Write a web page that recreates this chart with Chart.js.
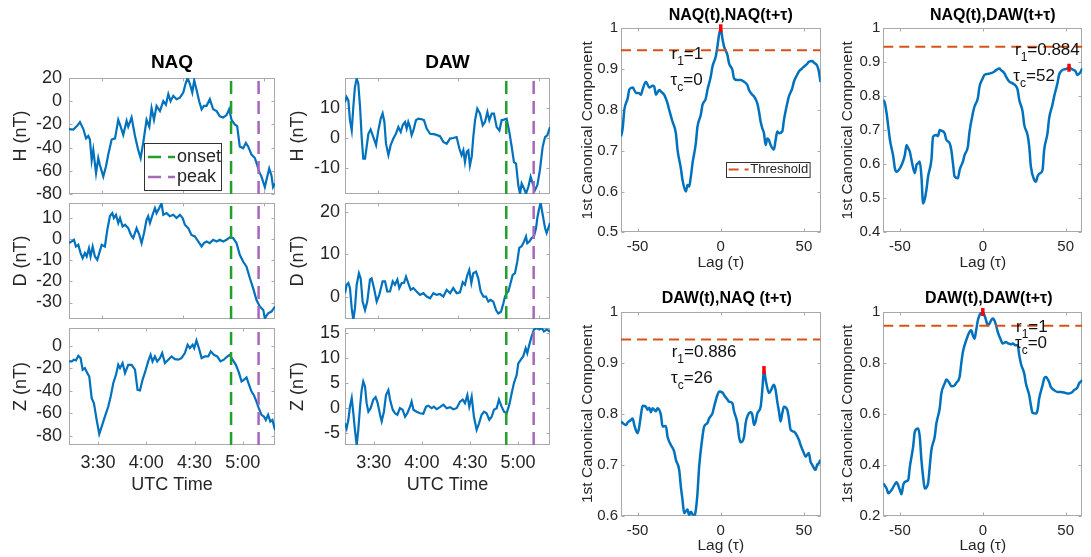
<!DOCTYPE html>
<html>
<head>
<meta charset="utf-8">
<script src="https://cdn.jsdelivr.net/npm/chart.js@4.4.1/dist/chart.umd.min.js"></script>
<style>
  html, body { margin: 0; padding: 0; background: #fff; }
  #wrap { position: relative; width: 1091px; height: 557px; overflow: hidden; background: #fff; }
  #wrap canvas { position: absolute; left: 0; top: 0; }
</style>
</head>
<body>
<div id="wrap"></div>
<script>
// ---------------- time axis (magnetometer panels) ----------------
const START = '3:12';            // first sample, UTC
const END = '5:20';              // last sample, UTC
const timeTickLabels = ['3:30', '4:00', '4:30', '5:00'];
const upperTickMin = [20.5, 70.7, 121];   // unlabeled ticks on the H and D panels (minutes after START)
const onsetMin = 100.7;          // substorm onset, minutes after START
const peakMin = 117.8;           // substorm peak, minutes after START

// ---------------- NAQ (minutes after START, nT) ----------------
const naqH_t = [0,2.7,5.2,6.8,8.9,10.6,12.0,13.0,14.1,15.1,16.8,18.2,19.2,21.3,23.0,24.4,26.5,28.6,30.6,32.1,33.7,35.8,36.8,38.9,41.0,43.0,44.5,46.1,48.2,49.9,51.3,52.8,54.4,56.5,58.6,60.2,61.7,63.1,64.8,66.8,68.9,71.0,72.4,73.7,75.1,76.6,77.8,79.2,80.9,82.4,83.8,85.5,87.5,89.6,91.7,93.7,95.8,97.9,99.5,101.0,103.0,104.5,106.1,108.2,109.9,111.3,113.4,115.5,116.9,118.2,119.6,121.7,122.7,124.4,125.8,126.8,128];
const naqH = [-24,-24.5,-21,-18,-24,-32,-30,-33,-51,-42,-62,-49,-55,-65,-56,-46,-33,-32,-16,-22,-29,-17,-22,-14,-30,-42,-49,-36,-16,-22,-6,-16,-4,-8.5,0,-3,6,0,4.6,1.7,3,7.5,15,20,15,7.5,18,10,0,-7,-4,-4,1.7,-7,-8.5,-13,-14,-12,-7,-16,-20,-21.5,-39,-40.5,-36,-39,-46,-49,-55,-61,-65,-74,-68,-58,-64,-74,-71];

const naqD_t = [0,1.7,3.1,4.3,5.8,7.2,8.5,9.9,11.0,12.4,13.4,14.7,16.1,17.6,18.8,20.3,22.3,23.8,25.4,26.9,27.9,29.2,30.6,31.7,33.3,34.8,36.8,38.5,39.9,42.0,43.7,45.1,46.6,48.2,49.2,50.3,51.9,53.4,54.4,56.1,57.5,58.6,60.6,62.7,64.8,66.8,68.9,70.6,72.0,74.1,76.1,78.2,80.3,82.4,83.8,85.5,87.5,89.6,91.7,93.7,95.8,97.9,99.9,102.0,104.1,106.1,108.2,110.3,112.4,114.4,116.5,118.6,120.7,121.7,123.7,125.8,128];
const naqD = [-1.9,-1.1,-0.3,-3.5,-2.7,-6.6,-9,-6.6,-8.2,-4.3,-8.2,-3.5,-8.2,-9.8,-6.6,-2.7,-3.5,4.4,10.8,12.3,10,11.5,7.6,10,6,6.8,5.2,2,0.5,5.2,2,-1.9,2.8,9.2,10.8,7.6,11.5,14.7,12.3,14.7,17,11.5,12.3,10.8,11.5,10,11.5,10,6.8,5.2,2,1.3,-1.1,-3.5,-1.9,-1.1,-1.9,-0.3,-1.1,-0.3,-1.1,-0.3,0.8,0.5,-1.9,-7.4,-10.6,-13,-18.5,-23.2,-28.8,-31.9,-33.5,-37.5,-35.1,-34.3,-31.9];

const naqZ_t = [0,1.7,3.1,4.3,5.8,7.2,8.5,9.9,11.4,12.6,14.1,15.5,17.2,18.8,20.3,22.3,24.4,25.9,27.5,29.2,30.6,31.7,33.3,34.8,36.8,38.9,41.0,42.6,44.1,45.7,47.4,49.2,50.7,51.9,53.4,54.8,56.5,57.9,59.6,61.7,63.7,65.8,67.9,69.9,72.0,73.7,75.1,76.8,77.8,79.2,80.7,82.4,84.4,86.5,88.1,90.0,92.1,94.1,96.2,97.9,99.9,101.6,103.7,105.7,107.2,108.6,110.3,111.9,113.4,114.8,116.5,117.9,119.6,121.1,122.3,123.7,125.1,126.4,128];
const naqZ = [-13.9,-13.9,-12.4,-13,-8.9,-11,-21.3,-19.9,-24.3,-27.3,-46.5,-51,-65.8,-78.2,-71.7,-62.8,-53.9,-45,-33.2,-25.8,-16.9,-19.9,-15.4,-24.3,-16.9,-16.9,-21.3,-39.1,-39.7,-30.2,-22.8,-13.9,-8,-13.9,-9.5,-13.9,-11,-6.5,-15.4,-12.4,-9.5,-11.9,-12.4,-11,-6.5,0.9,-2.1,0.9,-2.1,4.7,-2.1,-11,-9.5,-9.5,-5,-8,-9.5,-13.9,-12.4,-10,-8,-12.4,-16.9,-24.3,-31.7,-30.2,-28.1,-34.7,-40.6,-43.6,-49.5,-55.4,-61.3,-62.8,-65.8,-61.3,-67.3,-65.8,-74.7];

// ---------------- DAW (minutes after START, nT) ----------------
const dawH_t = [0,1.0,2.1,3.1,4.2,5.2,6.2,7.3,8.3,9.4,10.4,11.4,12.5,13.5,14.6,16.0,17.7,19.4,20.8,22.3,23.5,24.6,25.6,27.1,28.5,30.2,31.8,33.3,34.8,36.0,37.5,38.5,39.5,40.6,41.6,42.7,44.3,45.8,47.9,49.3,51.0,53.1,56.2,59.3,61.4,63.5,65.6,67.6,69.7,71.4,72.8,73.9,74.9,76.0,77.0,78.0,79.1,80.1,81.2,82.6,84.3,86.0,87.4,88.9,90.1,91.6,93.0,94.7,96.4,97.8,99.3,100.9,102.6,104.1,105.5,106.8,108.2,109.3,110.3,111.8,113.0,114.5,115.9,117.2,118.6,120.1,121.7,123.4,124.9,126.3,128];
const dawH = [11.9,13.6,12.5,5.9,2.5,10.3,16.9,19.7,18,10.3,0.3,-6.9,-6.9,-3,1.4,2.8,0.3,-2.4,2.5,6.4,8.1,5.3,-1.9,-5.7,-2.4,-0.2,1.4,3.6,2,4.2,5.3,3.1,5.3,3.6,0.9,2.5,5.9,6.4,6.2,5.9,3.1,1.4,1.2,0.6,-1.3,-1.9,-0.2,0,0.3,-3.5,-5.7,-4.1,-8,-4.6,-4.1,-9.1,-6.3,0.3,5.9,9.7,8.1,4.2,5.3,8.6,5.9,8.1,8.1,3.6,2.5,5.9,6.1,6.4,2,-3,-8,-8.5,-15.7,-18.5,-15.1,-16.8,-18.5,-16.2,-12.9,-15.1,-17.3,-15.7,-10.7,-3,0.3,0.9,3.6];

const dawD_t = [0,1.0,2.1,3.1,4.2,5.2,6.2,7.3,8.7,9.8,11.0,12.5,13.9,15.6,16.6,18.1,19.8,21.4,23.5,25.0,26.4,28.1,29.8,31.2,32.7,33.9,35.4,36.8,38.1,39.5,41.0,42.7,44.7,46.8,48.9,51.0,53.1,55.2,57.2,59.3,61.4,63.5,65.6,67.6,69.7,71.8,73.5,74.9,76.4,77.6,78.9,80.1,81.8,83.2,84.7,86.4,88.0,89.5,90.9,92.6,94.3,95.7,97.4,98.9,99.9,100.9,102.0,103.4,104.7,106.1,107.6,108.8,110.3,111.8,113.0,113.8,115.1,116.5,118.0,119.3,120.1,121.3,122.2,123.4,124.9,125.9,127.0,128];
const dawD = [0.8,2.8,3.2,2,-2.8,-5.5,-2.8,2.8,5.5,4.3,-1.2,-3.2,-1.2,4,4.3,2,-1.2,0.4,3.6,3.6,1.2,1.2,3.6,2.8,4,2,3.2,3.2,4.7,3.2,1.6,2,1.2,0.4,0.8,0,-0.4,0.8,0.4,0.6,0,1.6,0.8,2,0.8,1,3.4,2.8,5.1,6.3,3.2,5.5,5.9,4.3,1.2,0,0,-1.2,-0.8,-1.2,-3.2,-4,-3.6,-1.6,0,0.8,1.2,3.2,5.1,5.5,8.3,11.5,11.9,13,14.2,12.6,13,13.8,14.2,16.2,18.6,20.9,22.1,19.4,16.2,15,16.2,17.4];

const dawZ_t = [0,1.0,2.1,3.1,4.2,5.2,6.2,7.3,8.3,9.4,10.4,11.4,12.5,13.5,14.6,16.0,17.7,19.1,20.4,21.9,22.9,24.3,25.6,27.1,28.1,29.8,31.2,32.7,34.3,36.0,37.5,38.9,40.6,41.6,42.7,44.7,46.8,48.9,50.6,52.0,54.1,55.6,57.2,59.3,61.4,63.5,65.6,67.6,69.7,71.8,73.5,74.9,76.4,77.6,79.1,80.5,82.2,83.7,85.3,86.8,88.4,90.1,91.6,93.0,94.7,96.1,97.8,99.3,100.9,102.6,104.1,105.5,107.2,108.2,109.7,111.3,112.8,113.8,115.1,116.5,118.0,119.7,121.3,122.8,124.2,125.9,128];
const dawZ = [-3,-4,-2.3,0.3,2,-1,-4.3,-7.3,-4.3,0.3,3.6,5.3,4.3,1,-0.7,0,1.7,2.2,1,-1.3,-2.6,-0.7,2.6,3.6,1.7,-0.3,-1,-1.3,0,-0.3,-1.7,-1,0.3,1.3,-0.3,-0.7,-1,-1.1,0.3,0.5,0,0.3,-0.2,0.2,0.7,0,0.2,-0.2,0,1.3,1.7,1,2.6,0.3,2.3,-1.7,-4.3,-3,-1.3,-0.7,-1,-2.3,-1.7,-0.3,0,1.7,0.3,-0.7,-1,0.7,3,5,6.6,8.9,9.6,10.3,11.9,10.9,12.6,14.2,15.6,15.9,15.6,15.9,15.2,15.6,15.2];

// ---------------- lagged canonical correlation (first component) ----------------
const threshold = 0.946;
const lagTicks = [-50, 0, 50];

const lagNN = [-60,-59,-58,-56,-55,-53,-51,-49,-48,-47,-45,-43,-41,-40,-39,-37,-36,-34,-32,-31,-29,-27,-26,-24,-23,-21,-20,-19,-18,-17,-15,-14,-12,-11,-9,-8,-6,-5,-3,-2,-1,0,1,2,4,5,7,8,10,12,14,16,17,19,20,22,23,24,25,26,27,28,29,30,32,33,34,35,37,38,40,41,43,44,46,47,49,50,52,53,55,56,58,59,60];
const ccNN = [0.735,0.755,0.80,0.828,0.85,0.855,0.842,0.841,0.837,0.85,0.869,0.855,0.859,0.857,0.837,0.849,0.845,0.837,0.816,0.80,0.771,0.743,0.702,0.657,0.628,0.600,0.616,0.612,0.636,0.669,0.718,0.759,0.788,0.812,0.828,0.849,0.882,0.906,0.931,0.955,0.985,1.0,0.975,0.955,0.935,0.914,0.898,0.877,0.873,0.873,0.869,0.861,0.849,0.837,0.833,0.816,0.796,0.771,0.755,0.743,0.714,0.730,0.726,0.714,0.703,0.726,0.747,0.743,0.747,0.775,0.816,0.833,0.853,0.869,0.886,0.894,0.902,0.906,0.913,0.918,0.920,0.916,0.908,0.894,0.868];

const lagND = [-60,-59,-58,-57,-56,-54,-53,-52,-50,-49,-47,-46,-45,-44,-43,-41,-40,-39,-38,-37,-36,-34,-33,-31,-30,-28,-27,-26,-25,-23,-22,-20,-19,-18,-17,-15,-14,-12,-11,-9,-8,-6,-5,-3,-2,0,1,3,5,7,8,10,11,13,14,16,18,20,21,22,24,25,27,28,29,31,32,33,34,36,37,39,40,42,43,45,46,48,50,52,54,56,57,58,59,60];
const ccND = [0.79,0.779,0.75,0.711,0.672,0.623,0.588,0.578,0.588,0.598,0.627,0.657,0.647,0.637,0.613,0.574,0.598,0.603,0.608,0.564,0.485,0.525,0.564,0.613,0.681,0.686,0.683,0.701,0.699,0.691,0.672,0.662,0.642,0.603,0.564,0.559,0.583,0.608,0.627,0.652,0.696,0.750,0.770,0.794,0.828,0.853,0.863,0.866,0.868,0.873,0.877,0.882,0.877,0.868,0.858,0.843,0.838,0.830,0.819,0.789,0.755,0.716,0.686,0.652,0.593,0.554,0.549,0.564,0.572,0.583,0.642,0.691,0.735,0.775,0.799,0.838,0.863,0.877,0.880,0.884,0.879,0.873,0.863,0.866,0.872,0.882];

const lagDN = [-60,-59,-57,-56,-54,-53,-52,-50,-49,-48,-47,-45,-44,-43,-42,-41,-39,-38,-36,-35,-33,-32,-30,-28,-27,-25,-24,-23,-22,-20,-19,-18,-16,-15,-14,-13,-11,-10,-8,-7,-5,-4,-2,-1,1,2,4,5,7,8,10,11,12,14,15,16,18,19,20,21,22,24,25,26,27,29,30,32,33,34,35,36,37,38,40,41,42,44,45,47,48,50,51,53,54,55,57,58,59,60];
const ccDN = [0.785,0.782,0.778,0.783,0.788,0.791,0.778,0.762,0.775,0.798,0.816,0.814,0.808,0.812,0.803,0.811,0.805,0.811,0.798,0.775,0.776,0.755,0.739,0.726,0.710,0.690,0.657,0.631,0.605,0.612,0.601,0.608,0.598,0.611,0.644,0.696,0.755,0.775,0.782,0.791,0.801,0.814,0.837,0.844,0.842,0.837,0.828,0.824,0.821,0.805,0.782,0.755,0.744,0.755,0.782,0.795,0.803,0.798,0.778,0.785,0.801,0.814,0.847,0.886,0.867,0.841,0.845,0.857,0.847,0.824,0.805,0.785,0.801,0.814,0.808,0.791,0.769,0.765,0.762,0.749,0.739,0.723,0.716,0.723,0.706,0.700,0.690,0.700,0.703,0.710];

const lagDD = [-60,-58,-57,-55,-53,-52,-50,-49,-48,-47,-45,-44,-42,-41,-39,-38,-37,-36,-35,-33,-32,-31,-29,-28,-26,-25,-23,-22,-20,-19,-17,-16,-14,-13,-12,-10,-8,-7,-6,-5,-4,-3,-2,-1,0,1,2,3,4,5,6,7,8,9,11,12,14,15,17,18,20,21,22,23,25,26,28,29,30,32,33,34,36,37,38,40,41,43,45,47,49,51,52,54,55,57,58,60];
const ccDD = [0.327,0.307,0.288,0.301,0.324,0.331,0.301,0.284,0.320,0.333,0.340,0.392,0.471,0.529,0.542,0.510,0.418,0.353,0.307,0.327,0.392,0.458,0.510,0.562,0.621,0.680,0.719,0.735,0.719,0.708,0.712,0.722,0.745,0.797,0.843,0.889,0.922,0.928,0.908,0.895,0.928,0.967,0.987,0.998,1.0,0.987,0.967,0.948,0.954,0.967,0.974,0.967,0.948,0.922,0.889,0.876,0.882,0.878,0.873,0.876,0.869,0.869,0.830,0.797,0.758,0.719,0.673,0.634,0.604,0.601,0.614,0.660,0.712,0.739,0.745,0.725,0.706,0.693,0.686,0.686,0.684,0.680,0.680,0.686,0.693,0.703,0.719,0.732];

// peak of each lag curve: r1 and the lag where it occurs
const r1Values = [1, 0.884, 0.886, 1];
const tauValues = [0, 52, 26, 0];

// ---------------- styling ----------------
const FONT = '"Liberation Sans", Arial, Helvetica, sans-serif';
const TXT = '#262626';
const FRAME = '#a9a9a9';
const BLUE = '#0072bd';
const ONSET_COLOR = '#22a02a';
const PEAK_COLOR = '#a867bb';
const THRESH_COLOR = '#d95319';
const W = 1091, H = 557;

Chart.defaults.font.family = FONT;
Chart.defaults.color = TXT;

const toMin = s => { const [h, m] = s.split(':').map(Number); return h * 60 + m; };
const span = toMin(END) - toMin(START);
const timeTicks = timeTickLabels.map(s => toMin(s) - toMin(START));
const zip = (xs, ys) => xs.slice(0, Math.min(xs.length, ys.length)).map((x, i) => ({ x, y: ys[i] }));
const fmtNum = v => String(parseFloat(Number(v).toFixed(3)));

// frame and inward ticks on all sides (under the data), then titles, legends and notes (over it)
const panelDecor = {
  id: 'panelDecor',
  beforeDatasetsDraw(chart, args, o) {
    const { ctx, chartArea: a } = chart;
    const xs = chart.scales.x, ys = chart.scales.y;
    ctx.save();
    const L = Math.round(a.left) + 0.5, T = Math.round(a.top) + 0.5;
    const R = Math.round(a.right) - 0.5, B = Math.round(a.bottom) - 0.5;
    ctx.strokeStyle = FRAME; ctx.lineWidth = 1; ctx.setLineDash([]);
    ctx.strokeRect(L, T, R - L, B - T);
    const tl = o.tickLen || 3;
    ctx.beginPath();
    xs.ticks.forEach(tk => {
      const px = Math.round(xs.getPixelForValue(tk.value)) + 0.5;
      ctx.moveTo(px, B); ctx.lineTo(px, B - tl);
      ctx.moveTo(px, T); ctx.lineTo(px, T + tl);
    });
    ys.ticks.forEach(tk => {
      const py = Math.round(ys.getPixelForValue(tk.value)) + 0.5;
      ctx.moveTo(L, py); ctx.lineTo(L + tl, py);
      ctx.moveTo(R, py); ctx.lineTo(R - tl, py);
    });
    ctx.stroke();
    ctx.restore();
  },
  afterDatasetsDraw(chart, args, o) {
    const { ctx, chartArea: a } = chart;
    const xs = chart.scales.x, ys = chart.scales.y;
    ctx.save();
    if (o.title) {
      ctx.font = `bold ${o.title.size}px ${FONT}`;
      ctx.fillStyle = '#000'; ctx.textAlign = 'center'; ctx.textBaseline = 'middle';
      ctx.fillText(o.title.text, (a.left + a.right) / 2 + (o.title.dx || 0), a.top - o.title.dy);
    }

    if (o.legend) {
      const lg = o.legend;
      const bx = Math.round(a.left + lg.x), by = Math.round(a.top + lg.y);
      ctx.fillStyle = '#fff'; ctx.fillRect(bx, by, lg.w, lg.h);
      ctx.strokeStyle = '#333'; ctx.lineWidth = 1; ctx.setLineDash([]);
      ctx.strokeRect(bx + 0.5, by + 0.5, lg.w, lg.h);
      lg.items.forEach((di, i) => {
        const ds = chart.data.datasets[di];
        const yy = by + lg.rowY[i];
        ctx.strokeStyle = ds.borderColor; ctx.lineWidth = ds.borderWidth;
        ctx.setLineDash(ds.borderDash || []);
        ctx.beginPath(); ctx.moveTo(bx + lg.s0, yy); ctx.lineTo(bx + lg.s1, yy); ctx.stroke();
        ctx.setLineDash([]);
        ctx.fillStyle = TXT; ctx.font = `${lg.size}px ${FONT}`;
        ctx.textAlign = 'left'; ctx.textBaseline = 'middle';
        ctx.fillText(ds.label, bx + lg.textX, yy);
      });
    }

    if (o.notes) {
      o.notes.forEach(n => {
        const x = xs.getPixelForValue(n.at[0]), y = ys.getPixelForValue(n.at[1]);
        ctx.fillStyle = '#111'; ctx.textAlign = 'left'; ctx.textBaseline = 'alphabetic';
        ctx.font = `${n.size}px ${FONT}`;
        ctx.fillText(n.base, x, y);
        let w = ctx.measureText(n.base).width;
        ctx.font = `${Math.round(n.size * 0.68)}px ${FONT}`;
        ctx.fillText(n.sub, x + w, y + n.size * 0.36);
        w += ctx.measureText(n.sub).width;
        ctx.font = `${n.size}px ${FONT}`;
        ctx.fillText(n.rest, x + w, y);
      });
    }
    ctx.restore();
  }
};

function makeCanvas() {
  const c = document.createElement('canvas');
  c.width = W; c.height = H;
  c.style.width = W + 'px'; c.style.height = H + 'px';
  document.getElementById('wrap').appendChild(c);
  return c;
}

function buildPanel(p) {
  const a = p.area;
  return new Chart(makeCanvas(), {
    type: 'line',
    data: { datasets: p.datasets },
    options: {
      responsive: false, animation: false, devicePixelRatio: 1, events: [],
      layout: { padding: { left: a.l - p.yAxisW, top: a.t, right: W - a.r, bottom: H - a.b - p.xAxisH } },
      plugins: { legend: { display: false }, tooltip: { enabled: false }, title: { display: false }, panelDecor: p.decor },
      elements: { point: { radius: 0 }, line: { tension: 0 } },
      scales: {
        x: {
          type: 'linear', position: 'bottom', min: p.xMin, max: p.xMax,
          grid: { display: false, drawTicks: false }, border: { display: false },
          ticks: {
            display: p.xLabels, autoSkip: false, maxRotation: 0, padding: p.xTickPad,
            font: { size: p.tickSize }, color: TXT, callback: p.xFmt
          },
          afterBuildTicks: s => { s.ticks = p.xTicks.map(v => ({ value: v })); },
          afterFit: s => { s.height = p.xAxisH; },
          title: {
            display: !!p.xTitle, text: p.xTitle, color: TXT,
            font: { size: p.axTitleSize }, padding: { top: 0, bottom: p.xTitlePad }
          }
        },
        y: {
          type: 'linear', position: 'left', min: p.yMin, max: p.yMax,
          grid: { display: false, drawTicks: false }, border: { display: false },
          ticks: {
            autoSkip: false, padding: p.yTickPad, font: { size: p.tickSize }, color: TXT,
            callback: v => fmtNum(v)
          },
          afterBuildTicks: s => { s.ticks = p.yTicks.map(v => ({ value: v })); },
          afterFit: s => { s.width = p.yAxisW; },
          title: {
            display: true, text: p.yTitle, color: TXT,
            font: { size: p.axTitleSize }, padding: { top: p.yTitlePad, bottom: 0 }
          }
        }
      }
    },
    plugins: [panelDecor]
  });
}

// ---------------- magnetometer panels ----------------
const stations = [
  { name: 'NAQ', comps: [[naqH_t, naqH], [naqD_t, naqD], [naqZ_t, naqZ]],
    lims: [[-80, 20], [-37.8, 17.1], [-88, 15.7]],
    ticks: [[-80, -60, -40, -20, 0, 20], [-30, -20, -10, 0, 10], [-80, -60, -40, -20, 0]],
    col: { l: 69, r: 275, yAxisW: 69, yTitlePad: 10, yTickPad: 7 } },
  { name: 'DAW', comps: [[dawH_t, dawH], [dawD_t, dawD], [dawZ_t, dawZ]],
    lims: [[-18.6, 19.9], [-5.3, 22.1], [-7.3, 15.9]],
    ticks: [[-10, 0, 10], [0, 10, 20], [-5, 0, 5, 10, 15]],
    col: { l: 345, r: 550, yAxisW: 65, yTitlePad: 7, yTickPad: 5 } }
];
const compNames = ['H', 'D', 'Z'];
const rows = [{ t: 78, b: 194 }, { t: 203, b: 319 }, { t: 328, b: 445 }];

stations.forEach((st, si) => {
  st.comps.forEach(([tt, vv], ri) => {
    const [yMin, yMax] = st.lims[ri];
    const last = ri === 2;
    const datasets = [
      { label: 'onset', data: [{ x: onsetMin, y: yMin }, { x: onsetMin, y: yMax }],
        borderColor: ONSET_COLOR, borderWidth: 2.5, borderDash: [13, 7], pointRadius: 0, order: 0 },
      { label: 'peak', data: [{ x: peakMin, y: yMin }, { x: peakMin, y: yMax }],
        borderColor: PEAK_COLOR, borderWidth: 2.5, borderDash: [13, 7], pointRadius: 0, order: 0 },
      { label: st.name + ' ' + compNames[ri], data: zip(tt, vv),
        borderColor: BLUE, borderWidth: 2.2, pointRadius: 0, order: 1 }
    ];
    const decor = { tickLen: 3 };
    if (ri === 0) decor.title = { text: st.name, size: 19, dy: 15.5, dx: 0 };
    if (si === 0 && ri === 0) {
      decor.legend = { x: 75, y: 65, w: 77, h: 47, rowY: [14, 34], s0: 4, s1: 31, textX: 33, size: 18, items: [0, 1] };
    }
    buildPanel({
      area: { l: st.col.l, r: st.col.r, t: rows[ri].t, b: rows[ri].b },
      yAxisW: st.col.yAxisW, yTitlePad: st.col.yTitlePad, yTickPad: st.col.yTickPad,
      xAxisH: last ? 52 : 0,
      xMin: 0, xMax: span, yMin, yMax,
      xTicks: last ? timeTicks : upperTickMin,
      yTicks: st.ticks[ri],
      xLabels: last, xTickPad: 7.7, xTitlePad: 1.2,
      xFmt: v => { const i = timeTicks.findIndex(t => Math.abs(t - v) < 1e-6); return i >= 0 ? timeTickLabels[i] : ''; },
      xTitle: last ? 'UTC Time' : '',
      yTitle: compNames[ri] + ' (nT)',
      tickSize: 18, axTitleSize: 18,
      datasets, decor
    });
  });
});

// ---------------- correlation panels ----------------
const corrPanels = [
  { title: 'NAQ(t),NAQ(t+τ)', lag: lagNN, cc: ccNN, lim: [0.5, 1], ticks: [0.5, 0.6, 0.7, 0.8, 0.9, 1],
    area: { l: 621, t: 28.3, r: 820.5, b: 232.3 }, yAxisW: 51, tdx: 10, tdy: 12.3,
    rAt: [-29.6, 0.924], tAt: [-30.2, 0.861], legend: true },
  { title: 'NAQ(t),DAW(t+τ)', lag: lagND, cc: ccND, lim: [0.4, 1], ticks: [0.4, 0.5, 0.6, 0.7, 0.8, 0.9, 1],
    area: { l: 883.3, t: 28.3, r: 1082.3, b: 232.3 }, yAxisW: 53.3, tdx: 10, tdy: 12.3,
    rAt: [19.4, 0.921], tAt: [18.4, 0.846] },
  { title: 'DAW(t),NAQ (t+τ)', lag: lagDN, cc: ccDN, lim: [0.6, 1], ticks: [0.6, 0.7, 0.8, 0.9, 1],
    area: { l: 621, t: 312, r: 820.5, b: 515.7 }, yAxisW: 51, tdx: 6, tdy: 13,
    rAt: [-29.5, 0.912], tAt: [-29.9, 0.860] },
  { title: 'DAW(t),DAW(t+τ)', lag: lagDD, cc: ccDD, lim: [0.2, 1], ticks: [0.2, 0.4, 0.6, 0.8, 1],
    area: { l: 883.3, t: 312, r: 1082.3, b: 515.7 }, yAxisW: 53.3, tdx: 6, tdy: 13,
    rAt: [20, 0.923], tAt: [19.4, 0.858] }
];

corrPanels.forEach((cp, i) => {
  const r1 = r1Values[i], tau = tauValues[i];
  const datasets = [
    { label: 'r1', data: [{ x: tau, y: r1 }], showLine: false, pointStyle: 'line', pointRotation: 90,
      pointRadius: 4, pointBorderWidth: 3.5, pointBorderColor: '#ff0000', borderColor: '#ff0000',
      clip: false, order: 0 },
    { label: 'Threshold', data: [{ x: -60, y: threshold }, { x: 60, y: threshold }],
      borderColor: THRESH_COLOR, borderWidth: 2, borderDash: [10, 6], pointRadius: 0, order: 1 },
    { label: '1st canonical component', data: zip(cp.lag, cp.cc), borderColor: BLUE, borderWidth: 2.5,
      pointRadius: 0, cubicInterpolationMode: 'monotone', order: 2 }
  ];
  const decor = {
    tickLen: 3,
    title: { text: cp.title, size: 16, dx: cp.tdx, dy: cp.tdy },
    notes: [
      { at: cp.rAt, base: 'r', sub: '1', rest: '=' + fmtNum(r1), size: 17 },
      { at: cp.tAt, base: 'τ', sub: 'c', rest: '=' + tau, size: 17 }
    ]
  };
  if (cp.legend) {
    decor.legend = { x: 104.7, y: 133.4, w: 83.6, h: 15, rowY: [7.5], s0: 2.6, s1: 22.6, textX: 24.3, size: 13, items: [1] };
  }
  buildPanel({
    area: cp.area, yAxisW: cp.yAxisW, yTitlePad: 8.7, yTickPad: 3,
    xAxisH: 41, xMin: -60, xMax: 60, yMin: cp.lim[0], yMax: cp.lim[1],
    xTicks: lagTicks, yTicks: cp.ticks,
    xLabels: true, xTickPad: 5.7, xTitlePad: 1.3, xFmt: v => fmtNum(v),
    xTitle: 'Lag (τ)', yTitle: '1st Canonical Component',
    tickSize: 15, axTitleSize: 15.5,
    datasets, decor
  });
});
</script>
</body>
</html>
